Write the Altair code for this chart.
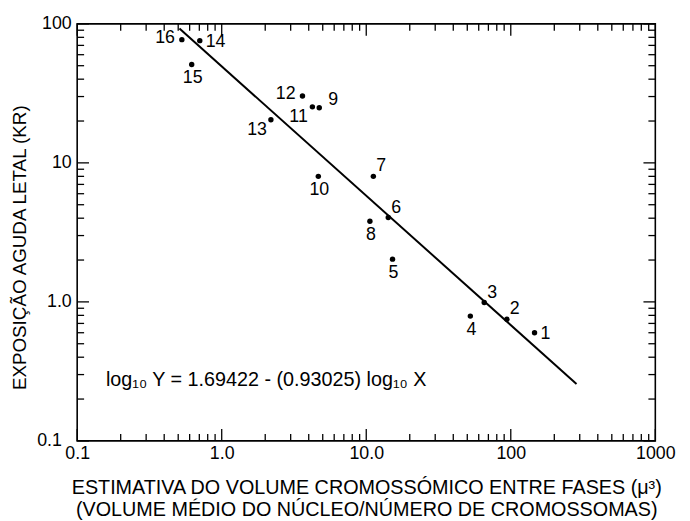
import altair as alt
import pandas as pd

# ---- data ----
ids = [1, 2, 3, 4, 5, 6, 7, 8, 9, 10, 11, 12, 13, 14, 15, 16]
vol = [146.0, 94.0, 65.5, 52.5, 15.2, 14.2, 11.2, 10.6, 4.73, 4.66, 4.24, 3.62, 2.19, 0.705, 0.62, 0.53]
dose = [0.60, 0.75, 0.99, 0.79, 2.03, 4.05, 8.0, 3.8, 24.9, 8.0, 25.3, 30.3, 20.4, 75.7, 51.0, 77.0]

line_x = [0.51, 285.0]
line_y = [92.5, 0.257]

x_ticks = [0.1, 1, 10, 100, 1000]
y_ticks = [0.1, 1, 10, 100]

equation = "log₁₀ Y = 1.69422 - (0.93025) log₁₀ X"
eq_x = [0.158]
eq_y = [0.276]

x_title = ["ESTIMATIVA DO VOLUME CROMOSSÓMICO ENTRE FASES (μ³)",
           "(VOLUME MÉDIO DO NÚCLEO/NÚMERO DE CROMOSSOMAS)"]
y_title = "EXPOSIÇÃO AGUDA LETAL (KR)"

W, H = 585, 422
FONT = "Liberation Sans"

df = pd.DataFrame({"id": ids, "x": vol, "y": dose})
df["lab"] = df["id"].astype(str)
line_df = pd.DataFrame({"x": line_x, "y": line_y})
eq_df = pd.DataFrame({"x": eq_x, "y": eq_y, "t": [equation]})

xscale = alt.Scale(type="log", domain=[0.1, 1000], nice=False)
yscale = alt.Scale(type="log", domain=[0.1, 100], nice=False)

xaxis = alt.Axis(values=x_ticks, ticks=False, domain=False, grid=False,
                 labelExpr="datum.value < 0.5 ? '0.1' : datum.value == 1 ? '1.0' : datum.value == 10 ? '10.0' : format(datum.value, 'd')",
                 labelFont=FONT, labelFontSize=18, labelColor="black",
                 labelPadding=4, titleFont=FONT, titleFontSize=20,
                 titleFontWeight="normal", titleColor="black", titlePadding=15,
                 titleLineHeight=22, labelFlush=False, labelOverlap=False)
yaxis = alt.Axis(values=y_ticks, ticks=False, domain=False, grid=False,
                 labelExpr="datum.value < 0.5 ? '0.1' : datum.value == 1 ? '1.0' : format(datum.value, 'd')",
                 labelFont=FONT, labelFontSize=18, labelColor="black",
                 labelPadding={"condition": {"test": "datum.value < 0.5", "value": 16}, "value": 6},
                 titleFont=FONT, titleFontSize=19,
                 titleFontWeight="normal", titleColor="black", titlePadding=7,
                 titleY=226, labelFlush=False, labelOverlap=False)


def X(field):
    return alt.X(field, scale=xscale, axis=xaxis, title=x_title)


def Y(field):
    return alt.Y(field, scale=yscale, axis=yaxis, title=y_title)


# minor/major tick positions
x_major = x_ticks
x_minor = [m * 10.0 ** k for k in range(-1, 3) for m in range(2, 10)]
y_major = y_ticks
y_minor = [m * 10.0 ** k for k in range(-1, 2) for m in range(2, 10)]

base = alt.Chart(df)

points = base.mark_circle(size=30, color="black", opacity=1).encode(
    x=X("x:Q"), y=Y("y:Q"))

reg = alt.Chart(line_df).mark_line(color="black", strokeWidth=2).encode(
    x=X("x:Q"), y=Y("y:Q"))


def labels(group, dx, dy, align):
    return base.transform_filter(
        alt.FieldOneOfPredicate(field="id", oneOf=group)
    ).mark_text(font=FONT, fontSize=18, color="black", dx=dx, dy=dy,
                align=align, baseline="middle").encode(
        x=X("x:Q"), y=Y("y:Q"), text="lab:N")


lab_layers = [
    labels([14, 1], 6, 1, "left"),
    labels([16, 12], -7, -2, "right"),
    labels([15, 10, 8, 5, 4], 1, 14, "center"),
    labels([7, 6, 3, 2], 8, -10, "center"),
    labels([9], 14, -8, "center"),
    labels([11, 13], -14, 10, "center"),
]

eq = alt.Chart(eq_df).mark_text(font=FONT, fontSize=20, color="black",
                                align="left", baseline="middle").encode(
    x=X("x:Q"), y=Y("y:Q"), text="t:N")


def xticks(vals, length):
    d = pd.DataFrame({"x": vals})
    bottom = alt.Chart(d).mark_rule(color="black", strokeWidth=1.3).encode(
        x=X("x:Q"), y=alt.value(H), y2=alt.value(H - length))
    top = alt.Chart(d).mark_rule(color="black", strokeWidth=1.3).encode(
        x=X("x:Q"), y=alt.value(0), y2=alt.value(length))
    return [bottom, top]


def yticks(vals, length):
    d = pd.DataFrame({"y": vals})
    left = alt.Chart(d).mark_rule(color="black", strokeWidth=1.3).encode(
        y=Y("y:Q"), x=alt.value(0), x2=alt.value(length))
    right = alt.Chart(d).mark_rule(color="black", strokeWidth=1.3).encode(
        y=Y("y:Q"), x=alt.value(W), x2=alt.value(W - length))
    return [left, right]


tick_layers = (xticks(x_major, 12) + xticks(x_minor, 7)
               + yticks(y_major, 12) + yticks(y_minor, 7))

chart = alt.layer(points, reg, eq, *lab_layers, *tick_layers).properties(
    width=W, height=H,
    autosize=alt.AutoSizeParams(type="none"),
    padding={"left": 70, "top": 13, "right": 27, "bottom": 78},
    background="white",
).configure_view(stroke="black", strokeWidth=1.6)

chart.save("out.html", embed_options={"renderer": "svg", "actions": False})
